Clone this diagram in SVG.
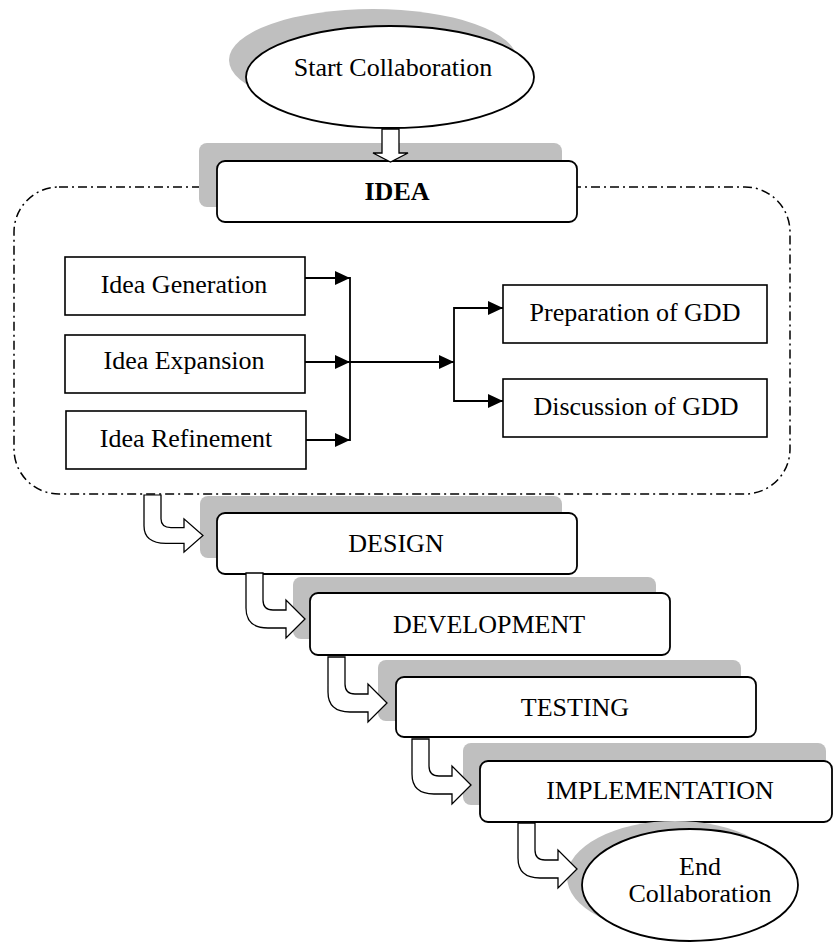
<svg xmlns="http://www.w3.org/2000/svg" width="835" height="942" viewBox="0 0 835 942">
<style>
text{font-family:"Liberation Serif","Times New Roman",serif;font-size:26px;fill:#000;text-anchor:middle}
.sh{fill:#bfbfbf;stroke:none}
.rb{fill:#fff;stroke:#000;stroke-width:1.8}
.bx{fill:#fff;stroke:#000;stroke-width:1.6}
.ln{fill:none;stroke:#000;stroke-width:1.8}
.ba{fill:#fff;stroke:#000;stroke-width:1.3}
</style>
<defs>
<marker id="ah" viewBox="0 0 15 14" refX="15" refY="7" markerWidth="15" markerHeight="14" markerUnits="userSpaceOnUse" orient="auto">
<path d="M0,0 L15,7 L0,14 Z" fill="#000"/>
</marker>
<path id="ua" d="M0,0 H17 V27 Q17,37 27,37 H40 V27 L59,46 L40,65 V55 H22 Q0,55 0,35 Z"/>
</defs>

<g id="container">
<rect x="14" y="187" width="776" height="307" rx="45" ry="45" fill="none" stroke="#000" stroke-width="1.5" stroke-dasharray="9,4,2,4"/>
</g>

<g id="start">
<ellipse class="sh" cx="373" cy="60" rx="144" ry="51"/>
<ellipse class="rb" cx="390" cy="77" rx="144" ry="51"/>
<text x="393" y="76">Start Collaboration</text>
</g>

<g id="idea">
<rect class="sh" x="199" y="143" width="363" height="64" rx="8"/>
<rect class="rb" x="217" y="161" width="360" height="61" rx="8"/>
<text x="397" y="200" font-weight="bold">IDEA</text>
</g>

<g id="idea-generation">
<rect class="bx" x="65" y="257" width="240" height="58"/>
<text x="184" y="293">Idea Generation</text>
</g>
<g id="idea-expansion">
<rect class="bx" x="65" y="335" width="240" height="58"/>
<text x="184" y="369">Idea Expansion</text>
</g>
<g id="idea-refinement">
<rect class="bx" x="66" y="411" width="240" height="58"/>
<text x="186" y="447">Idea Refinement</text>
</g>
<g id="preparation-gdd">
<rect class="bx" x="503" y="285" width="264" height="58"/>
<text x="635" y="321">Preparation of GDD</text>
</g>
<g id="discussion-gdd">
<rect class="bx" x="503" y="379" width="264" height="58"/>
<text x="636" y="415">Discussion of GDD</text>
</g>

<g id="design">
<rect class="sh" x="200" y="496" width="362" height="62" rx="8"/>
<rect class="rb" x="217" y="513" width="360" height="61" rx="8"/>
<text x="396" y="552">DESIGN</text>
</g>
<g id="development">
<rect class="sh" x="293" y="577" width="363" height="62" rx="8"/>
<rect class="rb" x="310" y="593" width="360" height="62" rx="8"/>
<text x="489" y="633">DEVELOPMENT</text>
</g>
<g id="testing">
<rect class="sh" x="378" y="660" width="363" height="61" rx="8"/>
<rect class="rb" x="396" y="677" width="360" height="60" rx="8"/>
<text x="575" y="716">TESTING</text>
</g>
<g id="implementation">
<rect class="sh" x="463" y="743" width="363" height="62" rx="8"/>
<rect class="rb" x="480" y="761" width="352" height="61" rx="8"/>
<text x="660" y="799">IMPLEMENTATION</text>
</g>
<g id="end">
<ellipse class="sh" cx="675" cy="877" rx="108" ry="56"/>
<ellipse class="rb" cx="690" cy="885" rx="108" ry="56"/>
<text x="700" y="875" font-size="20">End</text>
<text x="700" y="902" font-size="20">Collaboration</text>
</g>

<g id="connectors">
<path class="ba" d="M382,129 H399 V153 H408 L390.5,162 L373,153 H382 Z"/>
<line class="ln" x1="305" y1="278" x2="350" y2="278" marker-end="url(#ah)"/>
<line class="ln" x1="305" y1="362" x2="350" y2="362" marker-end="url(#ah)"/>
<line class="ln" x1="306" y1="440" x2="350" y2="440" marker-end="url(#ah)"/>
<line class="ln" x1="350" y1="277" x2="350" y2="441"/>
<line class="ln" x1="350" y1="362" x2="454" y2="362" marker-end="url(#ah)"/>
<line class="ln" x1="454" y1="307" x2="454" y2="402"/>
<line class="ln" x1="454" y1="308" x2="503" y2="308" marker-end="url(#ah)"/>
<line class="ln" x1="454" y1="401" x2="503" y2="401" marker-end="url(#ah)"/>
<use href="#ua" class="ba" transform="translate(144,495) scale(1,0.88)"/>
<use href="#ua" class="ba" transform="translate(246,573)"/>
<use href="#ua" class="ba" transform="translate(328,657)"/>
<use href="#ua" class="ba" transform="translate(412,739)"/>
<use href="#ua" class="ba" transform="translate(518,823)"/>
</g>
</svg>
